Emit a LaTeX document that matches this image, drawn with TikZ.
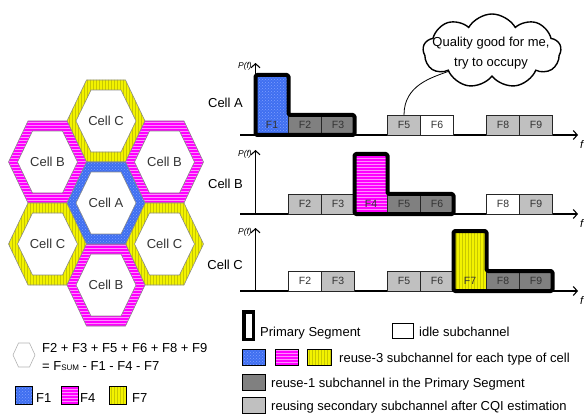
\documentclass[tikz,border=0pt]{standalone}
\usepackage{fontspec}
\setmainfont{Liberation Sans}
\usetikzlibrary{patterns,shapes.symbols,arrows.meta,calc}

\definecolor{cellblue}{HTML}{3F6FF0}
\definecolor{dotblue}{HTML}{7F9FFF}
\definecolor{cellpink}{HTML}{FF00FF}
\definecolor{stripepink}{HTML}{FF8CFF}
\definecolor{cellyellow}{HTML}{F2F200}
\definecolor{stripeyellow}{HTML}{C8C800}
\definecolor{darkbox}{HTML}{808080}
\definecolor{lightbox}{HTML}{C0C0C0}
\definecolor{hexedge}{HTML}{8C8C8C}
\definecolor{labelgray}{HTML}{333333}

\tikzset{
  bluefill/.style={preaction={fill=cellblue, even odd rule}, pattern=crosshatch dots, pattern color=dotblue},
  pinkfill/.style={preaction={fill=cellpink, even odd rule}, pattern=horizontal lines, pattern color=stripepink},
  yellowfill/.style={preaction={fill=cellyellow, even odd rule}, pattern=vertical lines, pattern color=stripeyellow},
  darkfill/.style={fill=darkbox},
  lightfill/.style={fill=lightbox},
  idlefill/.style={fill=white},
  txt/.style={font=\fontsize{13}{15}\selectfont, inner sep=0},
  band/.style={draw=black!85, line width=0.7, inner sep=0, outer sep=0, minimum width=33},
  bandlabel/.style={font=\fontsize{10.5}{12}\selectfont, text=labelgray, inner sep=0},
  primary/.style={draw=black, line width=4, line join=round, rounded corners=1.5},
  axis/.style={line width=1.1, -{Straight Barb[length=4pt,width=9pt]}},
  pf/.style={font=\fontsize{8.5}{9}\selectfont\itshape, inner sep=0},
  legbox/.style={draw=black, line width=0.8, inner sep=0, minimum width=23, minimum height=16},
}

% one cell of the hexagonal layout: a coloured ring with its name inside
\newcommand\hexcell[4]{%
  \begin{scope}[shift={#2}]
    \path[#3, draw=hexedge, line width=0.6, even odd rule]
      (-39,0) -- (-19.5,-41) -- (19.5,-41) -- (39,0) -- (19.5,41) -- (-19.5,41) -- cycle
      (-30,0) -- (-15,-31) -- (15,-31) -- (30,0) -- (15,31) -- (-15,31) -- cycle;
    \node[txt, text=black!80] (#1) at (0,0) {#4};
  \end{scope}}

% one subchannel block on a frequency axis
\newcommand\subband[6]{%
  \node[band, #4, minimum height=#5, anchor=south west] (#1) at ({255.5+33*(#2-1)},#3) {};
  \node[bandlabel] (#1t) at ($(#1.south)+(0,-10)$) {#6};}

\begin{document}
\begin{tikzpicture}[x=1pt, y=-1pt]
\useasboundingbox (0,0) rectangle (584,417);

% ---------- hexagonal cell layout ----------
\hexcell{hCt}{(106,121)}{yellowfill}{Cell C}
\hexcell{hBl}{(47.5,162)}{pinkfill}{Cell B}
\hexcell{hBr}{(164.5,162)}{pinkfill}{Cell B}
\hexcell{hCl}{(47.5,244)}{yellowfill}{Cell C}
\hexcell{hCr}{(164.5,244)}{yellowfill}{Cell C}
\hexcell{hBb}{(106,285)}{pinkfill}{Cell B}
\hexcell{hA}{(106,203)}{bluefill}{Cell A}

% ---------- left legend ----------
\draw[draw=black!30, line width=0.6] (13,355) -- (18.5,343) -- (29.5,343) -- (35,355) -- (29.5,367) -- (18.5,367) -- cycle;
\node[txt, anchor=base west] (sum1) at (42,352) {F2 + F3 + F5 + F6 + F8 + F9};
\node[txt, anchor=base west] (sum2) at (42,370) {= F{\fontsize{8}{9}\selectfont SUM} - F1 - F4 - F7};
\node[draw=black, line width=0.8, bluefill, inner sep=0, minimum width=17, minimum height=18] (lF1) at (23.5,395) {};
\node[txt, anchor=base west] (lF1t) at (36,402) {F1};
\node[draw=black, line width=0.8, pinkfill, inner sep=0, minimum width=17, minimum height=18] (lF4) at (69.5,395) {};
\node[txt, anchor=base west] (lF4t) at (80,402) {F4};
\node[draw=black, line width=0.8, yellowfill, inner sep=0, minimum width=17, minimum height=18] (lF7) at (117.5,395) {};
\node[txt, anchor=base west] (lF7t) at (132,402) {F7};

% ---------- frequency axes ----------
\coordinate (hA0) at (240,135); \coordinate (hA1) at (578,135);
\coordinate (vA0) at (255.5,135); \coordinate (vA1) at (255.5,63);
\coordinate (hB0) at (240,214); \coordinate (hB1) at (578,214);
\coordinate (vB0) at (255.5,214); \coordinate (vB1) at (255.5,150);
\coordinate (hC0) at (240,291); \coordinate (hC1) at (578,291);
\coordinate (vC0) at (255.5,291); \coordinate (vC1) at (255.5,228);
\foreach \r in {A,B,C} {
  \draw[axis] (h\r0) -- (h\r1);
  \draw[axis] (v\r0) -- (v\r1);
}
\node[pf, anchor=east] (pfA) at (252,66) {P(f)};
\node[pf, anchor=east] (pfB) at (252,154) {P(f)};
\node[pf, anchor=east] (pfC) at (252,232) {P(f)};
\node[pf, font=\fontsize{11}{12}\selectfont\itshape, anchor=west] (fA) at (580,145) {f};
\node[pf, font=\fontsize{11}{12}\selectfont\itshape, anchor=west] (fB) at (580,224) {f};
\node[pf, font=\fontsize{11}{12}\selectfont\itshape, anchor=west] (fC) at (580,301) {f};

\node[txt, anchor=east] (rowA) at (243,103) {Cell A};
\node[txt, anchor=east] (rowB) at (243,184) {Cell B};
\node[txt, anchor=east] (rowC) at (243,265) {Cell C};

% ---------- Cell A ----------
\subband{A1}{1}{135}{bluefill}{60}{F1}
\subband{A2}{2}{135}{darkfill}{20}{F2}
\subband{A3}{3}{135}{darkfill}{20}{F3}
\subband{A5}{5}{135}{lightfill}{20}{F5}
\subband{A6}{6}{135}{idlefill}{20}{F6}
\subband{A8}{8}{135}{lightfill}{20}{F8}
\subband{A9}{9}{135}{lightfill}{20}{F9}
\draw[primary] (A1.south west) -- (A1.north west) -- (A1.north east) |- (A3.north east) -- (A3.south east) -- cycle;

% ---------- Cell B ----------
\subband{B2}{2}{214}{lightfill}{20}{F2}
\subband{B3}{3}{214}{lightfill}{20}{F3}
\subband{B4}{4}{214}{pinkfill}{60}{F4}
\subband{B5}{5}{214}{darkfill}{20}{F5}
\subband{B6}{6}{214}{darkfill}{20}{F6}
\subband{B8}{8}{214}{idlefill}{20}{F8}
\subband{B9}{9}{214}{lightfill}{20}{F9}
\draw[primary] (B4.south west) -- (B4.north west) -- (B4.north east) |- (B6.north east) -- (B6.south east) -- cycle;

% ---------- Cell C ----------
\subband{C2}{2}{291}{idlefill}{20}{F2}
\subband{C3}{3}{291}{lightfill}{20}{F3}
\subband{C5}{5}{291}{lightfill}{20}{F5}
\subband{C6}{6}{291}{lightfill}{20}{F6}
\subband{C7}{7}{291}{yellowfill}{60}{F7}
\subband{C8}{8}{291}{darkfill}{20}{F8}
\subband{C9}{9}{291}{darkfill}{20}{F9}
\draw[primary] (C7.south west) -- (C7.north west) -- (C7.north east) |- (C9.north east) -- (C9.south east) -- cycle;

% ---------- thought cloud ----------
\node[cloud, draw=black, line width=1.4, cloud puffs=9, cloud puff arc=120, aspect=1.9, minimum width=138, minimum height=74, inner sep=0] (cloud) at (492,51) {};
\node[txt, align=center, font=\fontsize{13}{20}\selectfont] (cloudtext) at (491,53) {Quality good for me,\\try to occupy};
\draw[line width=0.8] (A5.north) .. controls +(0,-30) and +(-16,6) .. (cloud.205);

% ---------- right legend ----------
\node[draw=black, line width=3.5, inner sep=0, minimum width=9.5, minimum height=27.5] (lgPrim) at (248.5,325.5) {};
\node[txt, anchor=base west] (lgPrimT) at (260,336) {Primary Segment};
\node[legbox, minimum width=21, minimum height=15, fill=white] (lgIdle) at (402.5,330.5) {};
\node[txt, anchor=base west] (lgIdleT) at (419,336) {idle subchannel};
\node[legbox, bluefill] (lgR3a) at (253.5,357) {};
\node[legbox, pinkfill] (lgR3b) at (286.5,357) {};
\node[legbox, yellowfill, minimum width=24] (lgR3c) at (319,357) {};
\node[txt, anchor=base west] (lgR3T) at (339,362) {reuse-3 subchannel for each type of cell};
\node[legbox, darkfill] (lgR1) at (253.5,382) {};
\node[txt, anchor=base west] (lgR1T) at (271,387) {reuse-1 subchannel in the Primary Segment};
\node[legbox, lightfill] (lgSec) at (253.5,405) {};
\node[txt, anchor=base west] (lgSecT) at (271,410) {reusing secondary subchannel after CQI estimation};
\end{tikzpicture}
\end{document}
